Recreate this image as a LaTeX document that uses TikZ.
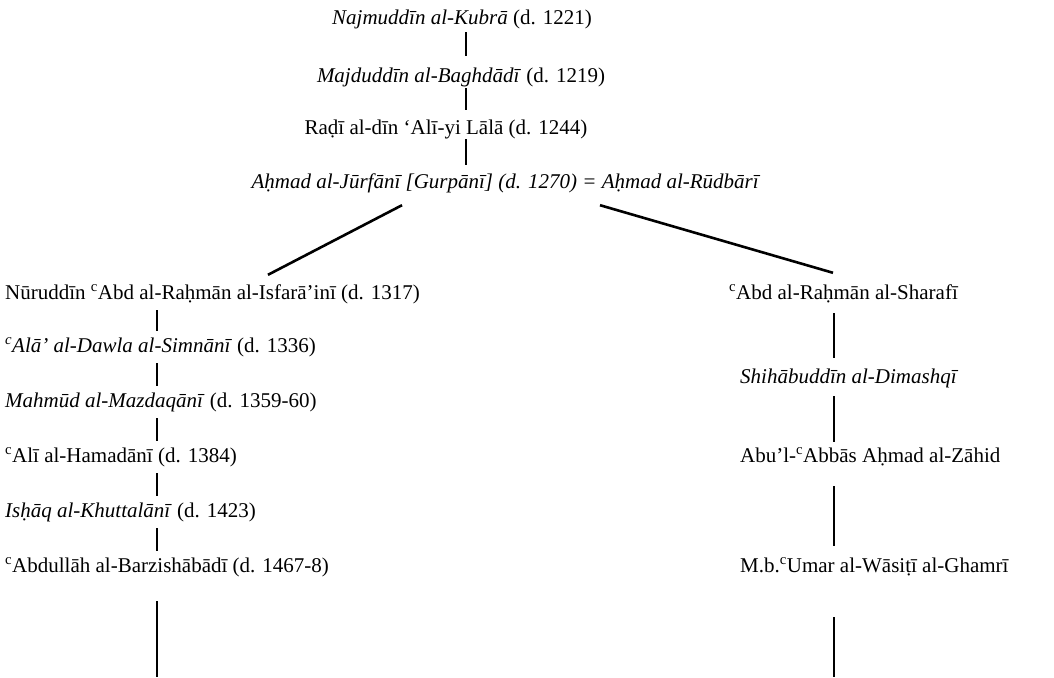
\documentclass[tikz,border=0pt]{standalone}
\usepackage{fontspec}
\setmainfont{Liberation Serif}
\usetikzlibrary{calc}
\begin{document}
\begin{tikzpicture}[x=1pt,y=-1pt,
  nm/.style={inner sep=0pt, anchor=base west, font=\fontsize{21}{25}\selectfont, text height=17pt, text depth=5pt},
  link/.style={line width=2.6pt}]
\useasboundingbox (0,0) rectangle (1054,677);
\coordinate (cT) at (466,0);
\coordinate (cL) at (157,0);
\coordinate (cR) at (834,0);
\coordinate (dA) at (402,0);
\coordinate (dB) at (268,0);
\coordinate (dC) at (600,0);
\coordinate (dD) at (833,0);
\coordinate (bL) at (157,677);
\coordinate (bR) at (834,677);
% top chain
\node[nm, anchor=base] (n1) at (462,25) {\textit{Najmuddīn al-Kubrā} (d. 1221)};
\node[nm, anchor=base] (n2) at (461,82) {\textit{Majduddīn al-Baghdādī} (d. 1219)};
\node[nm, anchor=base] (n3) at (446,134) {Raḍī al-dīn `Alī-yi Lālā (d. 1244)};
\node[nm, anchor=base] (n4) at (506,188) {\textit{Aḥmad al-Jūrfānī [Gurpānī] (d. 1270) = Aḥmad al-Rūdbārī}};
% left column
\node[nm] (l1) at (5,299) {Nūruddīn \textsuperscript{c}Abd al-Raḥmān al-Isfarā'inī (d. 1317)};
\node[nm] (l2) at (5,352) {\textit{\textsuperscript{c}Alā' al-Dawla al-Simnānī} (d. 1336)};
\node[nm] (l3) at (5,407) {\textit{Mahmūd al-Mazdaqānī} (d. 1359-60)};
\node[nm] (l4) at (5,462) {\textsuperscript{c}Alī al-Hamadānī (d. 1384)};
\node[nm] (l5) at (5,517) {\textit{Isḥāq al-Khuttalānī} (d. 1423)};
\node[nm] (l6) at (5,572) {\textsuperscript{c}Abdullāh al-Barzishābādī (d. 1467-8)};
% right column
\node[nm] (r1) at (729,299) {\textsuperscript{c}Abd al-Raḥmān al-Sharafī};
\node[nm] (r2) at (740,383) {\textit{Shihābuddīn al-Dimashqī}};
\node[nm] (r3) at (740,462) {Abu'l-\textsuperscript{c}Abbās Aḥmad al-Zāhid};
\node[nm] (r4) at (740,572) {M.b.\textsuperscript{c}Umar al-Wāsiṭī al-Ghamrī};
% top links
\draw[link, shorten <=2pt, shorten >=9pt] (n1.south -| cT) -- (n2.north -| cT);
\draw[link, shorten <=1pt, shorten >=7pt] (n2.south -| cT) -- (n3.north -| cT);
\draw[link, shorten <=0pt, shorten >=6pt] (n3.south -| cT) -- (n4.north -| cT);
% diagonals
\draw[link] ($(n4.south -| dA)+(0,12)$) -- ($(l1.north -| dB)+(0,-7)$);
\draw[link] ($(n4.south -| dC)+(0,12)$) -- ($(r1.north -| dD)+(0,-9)$);
% left links
\draw[link, shorten <=6pt, shorten >=4pt] (l1.south -| cL) -- (l2.north -| cL);
\draw[link, shorten <=6pt, shorten >=4pt] (l2.south -| cL) -- (l3.north -| cL);
\draw[link, shorten <=6pt, shorten >=4pt] (l3.south -| cL) -- (l4.north -| cL);
\draw[link, shorten <=6pt, shorten >=4pt] (l4.south -| cL) -- (l5.north -| cL);
\draw[link, shorten <=6pt, shorten >=4pt] (l5.south -| cL) -- (l6.north -| cL);
\draw[link, shorten <=24pt] (l6.south -| cL) -- (bL);
% right links
\draw[link, shorten <=9pt, shorten >=8pt] (r1.south -| cR) -- (r2.north -| cR);
\draw[link, shorten <=8pt, shorten >=3pt] (r2.south -| cR) -- (r3.north -| cR);
\draw[link, shorten <=19pt, shorten >=9pt] (r3.south -| cR) -- (r4.north -| cR);
\draw[link, shorten <=40pt] (r4.south -| cR) -- (bR);
\end{tikzpicture}
\end{document}
